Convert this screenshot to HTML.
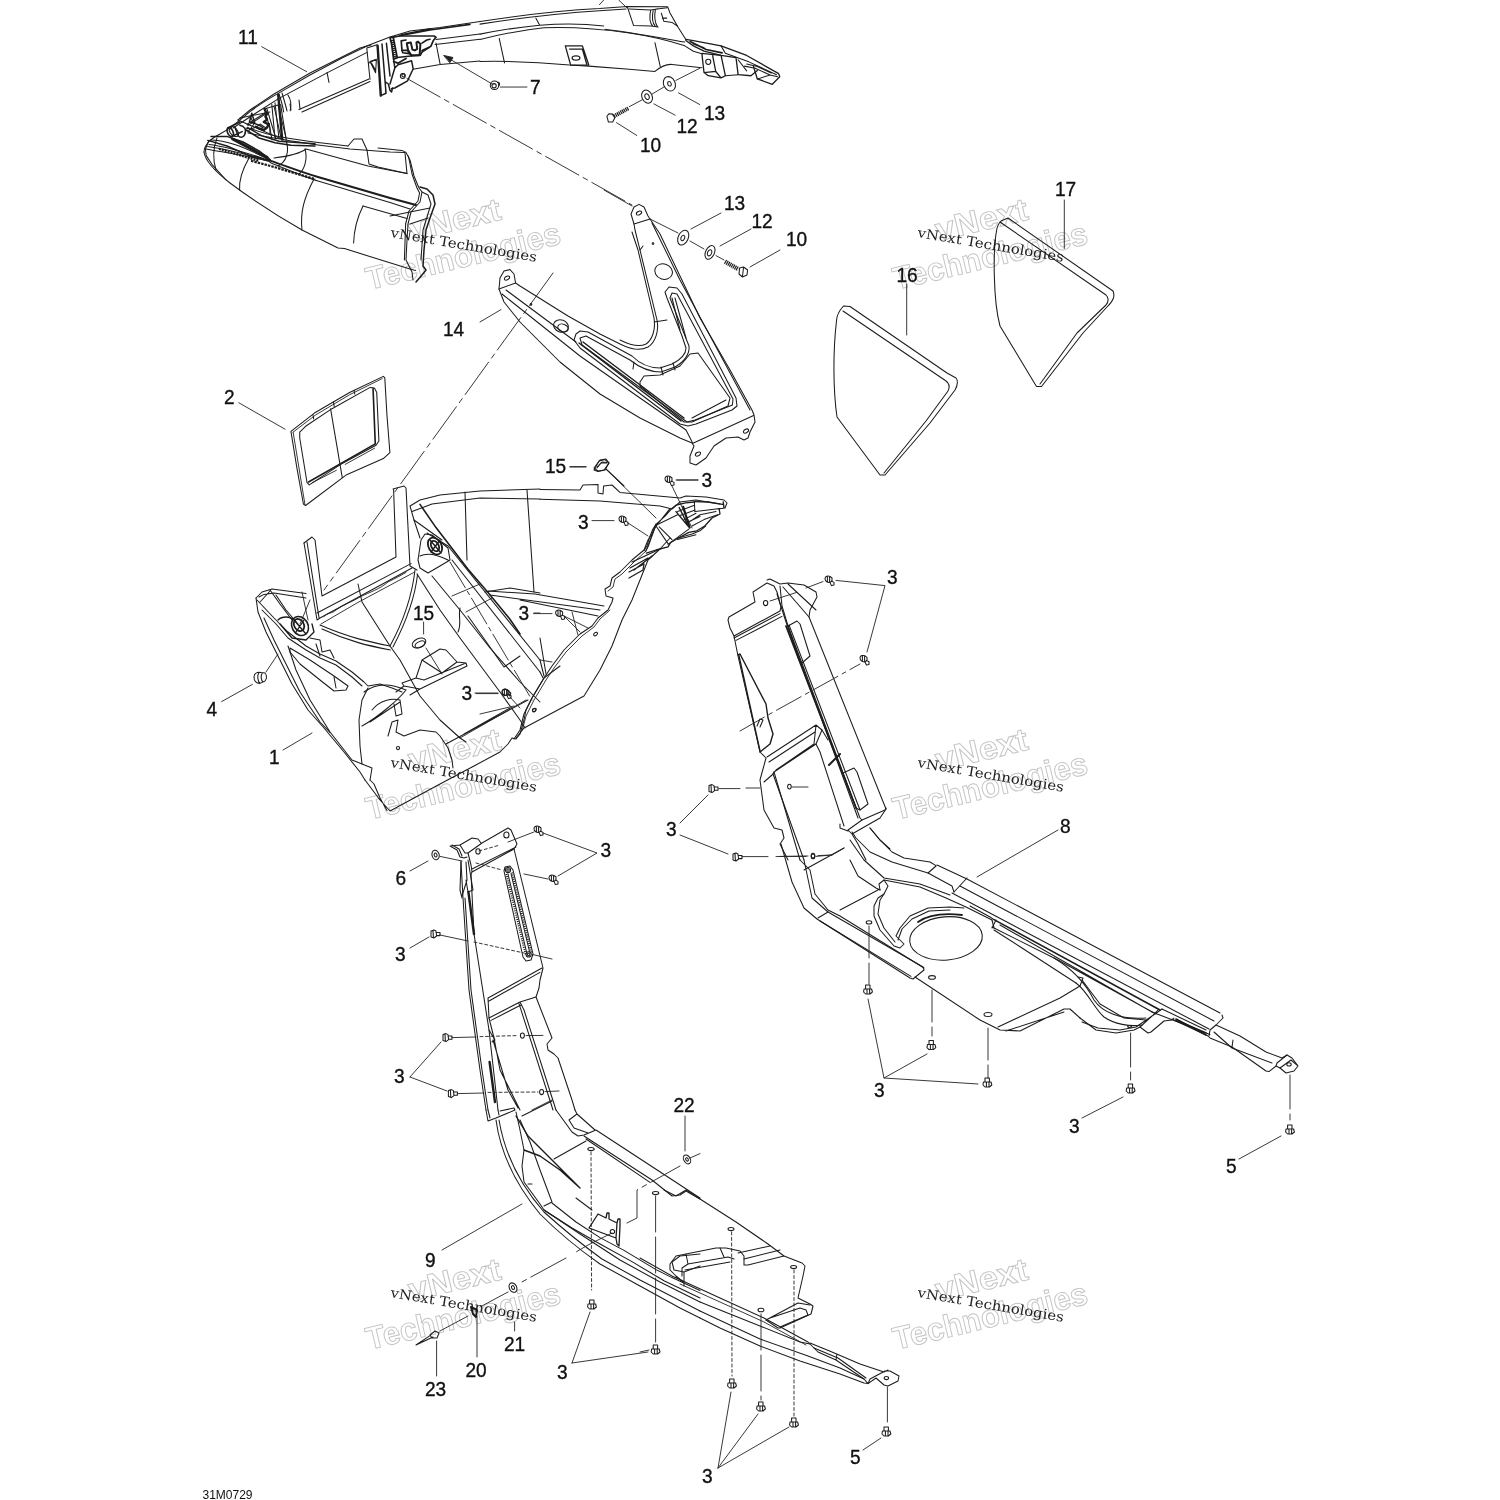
<!DOCTYPE html>
<html><head><meta charset="utf-8"><title>31M0729</title>
<style>
html,body{margin:0;padding:0;background:#fff;}
svg{display:block;filter:grayscale(1);}
.l{fill:none;stroke:#1c1c1c;stroke-width:1.05;vector-effect:non-scaling-stroke;stroke-linecap:round;stroke-linejoin:round;}
.t{fill:none;stroke:#222;stroke-width:0.9;vector-effect:non-scaling-stroke;stroke-linecap:round;stroke-linejoin:round;}
.n{font-family:"Liberation Sans",sans-serif;font-size:21px;fill:#111;stroke:#111;stroke-width:0.35;}
.wm1{font-family:"DejaVu Serif","Liberation Serif",serif;font-size:13.5px;fill:#222;}
.wm2{font-family:"Liberation Sans",sans-serif;font-weight:bold;font-size:32px;fill:#fff;stroke:#c4c4c4;stroke-width:0.95;}
.l *{vector-effect:non-scaling-stroke;}
</style></head><body>
<svg width="1500" height="1500" viewBox="0 0 1500 1500">
<rect width="1500" height="1500" fill="#fff"/>
<g transform="translate(465.7,266.7) rotate(-13.5)"><text class="wm2" text-anchor="middle" x="0" y="0" textLength="199" lengthAdjust="spacingAndGlyphs">Technologies</text><text class="wm2" text-anchor="middle" x="0" y="-37.5" textLength="94" lengthAdjust="spacingAndGlyphs">vNext</text></g>
<g transform="translate(992.7,266.7) rotate(-13.5)"><text class="wm2" text-anchor="middle" x="0" y="0" textLength="199" lengthAdjust="spacingAndGlyphs">Technologies</text><text class="wm2" text-anchor="middle" x="0" y="-37.5" textLength="94" lengthAdjust="spacingAndGlyphs">vNext</text></g>
<g transform="translate(465.7,796.7) rotate(-13.5)"><text class="wm2" text-anchor="middle" x="0" y="0" textLength="199" lengthAdjust="spacingAndGlyphs">Technologies</text><text class="wm2" text-anchor="middle" x="0" y="-37.5" textLength="94" lengthAdjust="spacingAndGlyphs">vNext</text></g>
<g transform="translate(992.7,796.7) rotate(-13.5)"><text class="wm2" text-anchor="middle" x="0" y="0" textLength="199" lengthAdjust="spacingAndGlyphs">Technologies</text><text class="wm2" text-anchor="middle" x="0" y="-37.5" textLength="94" lengthAdjust="spacingAndGlyphs">vNext</text></g>
<g transform="translate(465.7,1326.7) rotate(-13.5)"><text class="wm2" text-anchor="middle" x="0" y="0" textLength="199" lengthAdjust="spacingAndGlyphs">Technologies</text><text class="wm2" text-anchor="middle" x="0" y="-37.5" textLength="94" lengthAdjust="spacingAndGlyphs">vNext</text></g>
<g transform="translate(992.7,1326.7) rotate(-13.5)"><text class="wm2" text-anchor="middle" x="0" y="0" textLength="199" lengthAdjust="spacingAndGlyphs">Technologies</text><text class="wm2" text-anchor="middle" x="0" y="-37.5" textLength="94" lengthAdjust="spacingAndGlyphs">vNext</text></g>
<text class="wm1" transform="translate(390,237) rotate(9.6)" textLength="148" lengthAdjust="spacingAndGlyphs">vNext Technologies</text>
<text class="wm1" transform="translate(917,237) rotate(9.6)" textLength="148" lengthAdjust="spacingAndGlyphs">vNext Technologies</text>
<text class="wm1" transform="translate(390,767) rotate(9.6)" textLength="148" lengthAdjust="spacingAndGlyphs">vNext Technologies</text>
<text class="wm1" transform="translate(917,767) rotate(9.6)" textLength="148" lengthAdjust="spacingAndGlyphs">vNext Technologies</text>
<text class="wm1" transform="translate(390,1297) rotate(9.6)" textLength="148" lengthAdjust="spacingAndGlyphs">vNext Technologies</text>
<text class="wm1" transform="translate(917,1297) rotate(9.6)" textLength="148" lengthAdjust="spacingAndGlyphs">vNext Technologies</text>
<g transform="translate(240,480) scale(0.2)" class="l">
<!-- front-left outer -->
<path d="M80,590 L90,660 L130,760 L190,880 L260,1020 L340,1150 L420,1240 L520,1360 L600,1460 L625,1500"/>
<path d="M80,590 L110,560 L160,545 L330,568 M95,585 L120,572 L170,565 L330,590 M100,610 L150,555"/>
<path d="M120,690 L170,800 L230,920 L300,1060 L400,1210 L450,1262"/>
<path d="M240,830 L280,950 L350,1100 L450,1260 L560,1400 L610,1420 L660,1440 L650,1500"/>
<path d="M640,1040 L610,1100 L595,1200 L600,1330 L610,1420"/>
<path d="M85,600 L170,690 L240,760 L330,830 L400,870 L480,905 L560,960 L620,1010 L640,1030 L700,1020 L760,1040 L810,1060"/>
<path d="M110,650 L180,720 L240,790 L330,850 L400,890 L480,925 L560,985 L610,1030"/>
<path d="M150,550 L200,620 L260,700 M180,575 L230,650 L290,720"/>
<path d="M250,840 L350,900 L470,980 L540,1030 L530,1050 L470,1055 L400,1000 L300,920 L250,860 Z M470,985 L480,1040"/>
<!-- fastener left -->
<ellipse cx="300" cy="730" rx="40" ry="50" transform="rotate(-30 300 730)" style="stroke-width:1.6"/>
<ellipse cx="295" cy="725" rx="24" ry="32" transform="rotate(-30 295 725)" style="stroke-width:1.8"/>
<path d="M270,700 L330,770 M280,760 L320,700 M190,700 C210,680 250,680 270,700 M200,720 L260,790 L330,800 L370,760 L360,720" style="stroke-width:1.3"/>
<path d="M350,790 L400,800 L410,860 L450,850 L470,890 M380,820 L400,880"/>
<!-- U bracket -->
<path d="M320,315 L360,285 L375,300 L410,580 L780,385 L768,48 L765,45 L820,30 L830,40 L850,430 L885,450"/>
<path d="M320,315 L385,700 L400,690 L860,440 M335,310 L395,688 M385,665 L855,418"/>
<path d="M405,720 L590,612 L870,462 M420,682 C440,660 460,670 480,650 C520,620 560,610 600,585 C650,560 700,545 740,510 C780,490 800,480 830,462" class="t"/>
<path d="M590,520 L610,610 L750,830 L800,900 L900,1080 L1000,1200 L1100,1290 L1130,1310"/>
<path d="M400,725 C550,790 650,810 750,830 C810,720 860,580 875,450 M410,745 C550,810 650,830 752,850 M765,835 C825,720 875,590 888,470"/>
<path d="M310,560 L340,700 M350,600 L300,720" class="t"/>
<!-- long floor lines -->
<path d="M885,470 L1000,650 L1100,790 L1300,1060 L1400,1200 L1425,1240"/>
<path d="M960,480 L1100,650 L1250,840 L1400,1010 L1500,1110"/>
<path d="M1140,680 L1320,935 L1400,880"/>
<path d="M1100,640 C1090,680 1110,720 1090,760"/>
<!-- right beam -->
<path d="M870,200 L900,290 M935,265 L1040,330 L1500,900 M1060,400 L1500,960"/>
<path d="M850,130 L900,100 L1000,75 L1200,55 L1500,45 M860,158 L960,120 L1200,90 L1500,95 M850,130 L870,200 L1010,300"/>
<path d="M900,122 L980,238 L1140,446 L1236,558 L1348,694 L1400,770" style="stroke-width:1.6"/>
<path d="M1125,60 L1135,400 M1435,50 L1470,560"/>
<path d="M1225,560 L1350,540 L1500,565" />
<path d="M1060,580 L1200,520 M1130,660 L1260,590" class="t"/>
<!-- cup & fastener right -->
<path d="M905,300 L925,270 L960,275 L1040,340 L1050,400 L1000,430 L940,465 L900,440 L890,400 Z M900,380 C940,360 1000,380 1040,400"/>
<ellipse cx="975" cy="330" rx="32" ry="45" transform="rotate(-30 975 330)" style="stroke-width:1.8"/>
<ellipse cx="975" cy="330" rx="18" ry="28" transform="rotate(-30 975 330)" style="stroke-width:1.8"/>
<path d="M950,300 L1005,365 M955,360 L1000,300" style="stroke-width:1.3"/>
<!-- 15 clip & bracket -->
<ellipse cx="895" cy="815" rx="36" ry="22" transform="rotate(-25 895 815)"/><ellipse cx="900" cy="822" rx="26" ry="14" transform="rotate(-25 900 822)"/>
<path d="M930,840 L1010,970 M918,710 L918,770" class="t"/>
<path d="M880,990 L910,900 L1000,845 L1030,850 L1085,910 L1130,915 L1135,930 L900,1045 L820,1030 L810,1015 L880,990 L920,1000 L1130,915 M910,900 L1010,965 L1085,910 M820,1030 L780,1060 M900,1045 L850,1075"/>
<!-- screws -->
<g transform="translate(1330,1065)"><path d="M-18,-12 L-5,-20 L10,-10 L8,8 L-8,14 L-20,4 Z M10,-10 L24,0 L20,14 L8,8"/></g>
<path d="M1180,1068 L1290,1068 M1470,665 L1500,665" class="t"/>
<g transform="translate(100,985)"><path d="M-30,0 C-30,-20 -10,-28 5,-22 L25,-20 C35,-10 35,10 25,20 L0,32 C-20,32 -30,20 -30,0 Z M-5,-22 C-15,-5 -12,20 0,32 M12,-21 C2,-5 5,15 15,25"/></g>
<path d="M-92,1108 L62,1022 M130,960 L190,870 M215,1350 L360,1265" class="t"/>
<!-- lower cutout -->
<path d="M740,1280 L760,1210 L790,1200 L780,1260 L820,1280 L900,1250 L980,1260 L1000,1280 L1040,1340 L1060,1400 L1065,1440"/>
<circle cx="790" cy="1340" r="8"/><circle cx="1470" cy="1150" r="8"/>
<path d="M625,1500 L640,1520 L700,1600 L750,1655 L1000,1520 L1170,1430 L1300,1360 L1340,1320 L1360,1290 L1380,1295 L1400,1270 M1400,1270 L1420,1200 L1430,1150 L1460,1090 L1520,990 L1600,930 M650,1500 L670,1520 L700,1590 L735,1652 M1030,1320 L1440,1100 M1120,1270 L1350,1140"/>
<path d="M620,1060 C700,1000 780,1030 830,1050 M610,1230 C700,1180 800,1090 830,1050 M660,1150 C700,1100 760,1090 800,1100 L810,1170 L780,1180 L770,1120 M650,1210 L800,1110"/>
</g>
<g transform="translate(460,440) scale(0.2)" class="l">
<path d="M400,248 L600,250 L615,225 L690,222 L690,265 L715,270 L718,230 L760,225 L800,262 L1100,290 L1130,280 L1230,285 L1320,300 L1335,315 L1325,340 L1290,345"/>
<path d="M400,296 L700,305 L1000,330 L1060,345 L1100,310 L1180,300 L1300,320"/>


<path d="M980,420 L960,470 L940,500 L920,550 L860,600 L800,660 L760,690 L750,730 L725,745 L730,780 L765,790 L760,810 L740,850 L690,890 L660,930 L600,970 L520,1050 L460,1130 L420,1190 L360,1290 L320,1370 L300,1450 L270,1495"/>
<path d="M970,450 L950,500 L930,555 L870,610 L810,670 L775,695 L765,735 L740,755 M750,850 L700,895 L670,935 L610,980 L530,1060 L470,1140 L430,1200 L370,1300 L330,1380 L312,1450" class="t"/>
<path d="M1050,490 L1000,545 L940,600 L900,700 L860,800 L810,900 L760,1030 L700,1150 L620,1280 L320,1440 L280,1490"/>
<path d="M860,610 L1000,545 M845,660 L920,620 M845,690 L915,650 L920,620 M850,640 L940,590 M870,650 L960,580" style="stroke-width:1.3"/>
<path d="M140,755 L375,770 L720,830 M150,775 L700,850 M300,800 L690,880" />
<path d="M560,860 L590,975 M520,880 L640,940" class="t"/>
<ellipse cx="678" cy="970" rx="11" ry="7" transform="rotate(-40 678 970)"/><ellipse cx="372" cy="1350" rx="11" ry="7" transform="rotate(-40 372 1350)"/>
<path d="M400,1100 L420,1180 M400,990 L430,1170 M400,1160 L415,1190" />
<path d="M400,1100 L460,1110" class="t"/>
<path d="M0,1490 L330,1300 M100,1370 L270,1330" class="t"/>
<!-- screws -->
<g id="scr" transform="translate(1045,200)"><path d="M-20,-8 C-20,-20 -5,-22 5,-18 L15,-10 L15,5 L5,12 C-10,14 -20,5 -20,-8 Z M-8,-18 L-8,10 M3,-18 L3,12 M12,5 L25,12 L25,25 L12,28 L5,12"/></g>
<use href="#scr" transform="translate(-230,200)"/><use href="#scr" transform="translate(-547,670)"/><use href="#scr" transform="translate(-815,1065)"/>
<path d="M1085,200 L1190,200 M660,403 L770,403 M368,868 L460,868 M75,1265 L190,1265 M550,133 L630,133" class="t"/>
<path d="M1060,230 L1160,440 M840,415 L940,480 M525,885 L600,960 M250,1285 L300,1340 M735,150 L980,390" class="t"/>
<path d="M670,150 L695,105 L725,98 L745,115 L725,150 L690,158 Z M685,140 L705,115 L735,115"/>
</g>
<g transform="translate(620,470) scale(0.08)" class="l">
<path d="M650,480 L700,440 L820,410 L930,400 M1240,490 L1250,550 L1150,600 L1060,700 L960,760 L860,780 L730,850 L630,910 L600,960 L450,1000 L330,1040" style="stroke-width:1.3"/>
<path d="M650,480 L560,580 L450,680 L410,740 L370,840 L340,940 L300,1010 M620,490 L540,590 L460,690 L430,740 L390,850 L355,950 L320,1020"/>
<path d="M450,690 L720,560 M600,930 L860,740 M450,700 L600,920 M490,710 L650,870"/>
<path d="M790,460 L870,720" style="stroke-width:2.2"/>
<path d="M700,520 L850,700 M740,470 L850,690" style="stroke-width:1.4"/>
<path d="M720,520 L930,440 M750,570 L940,500 M800,620 L950,540 M850,650 L1000,580 M930,400 L935,520 M940,520 L1100,500 L1250,480 M880,640 L1000,560 L1200,520 M900,700 L1050,620 L1220,560 M730,850 L900,800 L1000,760 L1070,700 M720,870 L950,810"/>
<path d="M930,395 L1100,400 L1280,430 M1290,400 L1300,470" style="stroke-width:1.4"/>
</g><g transform="translate(200,350) scale(0.146667)" class="l">
<path d="M620,555 L780,430 L1020,290 L1250,180 L1260,190 L1275,450 L1295,700 L1250,740 L1000,850 L720,1060 L705,1050 L660,800 Z"/>
<path d="M635,560 L790,442 L1020,305 L1242,195 M635,560 L715,1050" class="t"/>
<path d="M680,560 L720,520 L900,400 L1160,255 L1190,260 L1205,290 L1220,620 L1200,650 L960,780 L745,920 L730,905 L680,600 Z"/>
<path d="M1180,265 L1195,640 L740,900" style="stroke-width:1.6"/>
<path d="M890,400 L970,870 M770,440 L775,470 M910,355 L915,385 M1050,275 L1055,300"/>
<path d="M765,905 L930,820 M990,780 L1190,670" class="t"/>
<path d="M265,360 L580,540" class="t"/>
</g>
<g transform="translate(700,560) scale(0.2)" class="l">
<path d="M335,100 L350,95 L400,120 L440,115 L520,125 L580,160 L585,185 L550,250 L545,285 L930,1245"/>
<path d="M265,160 L335,115 L370,130 L385,160 L405,235 L400,255 L170,380 L150,340 L140,300 L145,285 L275,210 Z M170,390 L400,268 M180,402 L410,282"/>
<path d="M170,380 L190,480 L300,960 L330,990 L300,1100 L320,1250 L370,1340 L410,1350 L420,1390 L400,1420 L440,1500"/>
<path d="M190,475 L200,470 L330,720 L340,790 L365,870 L350,920 L300,960 M195,480 L300,955" style="stroke-width:1.4"/>
<path d="M285,830 L300,795 L315,800 L300,835"/>
<path d="M335,985 L580,825 L610,850 L580,920 L370,1060 L360,1075 L320,1110 M580,825 L570,920 L380,1050 L365,1070 L520,1500 M345,1010 L575,860"/>
<path d="M580,920 L600,960 L720,1330 M610,850 L640,900 M370,1060 L500,1500"/>
<path d="M400,130 L410,230 L440,330 L800,1290 L810,1300 L925,1250 L930,1240"/>
<path d="M385,170 L430,310 L790,1290 M415,135 L545,285 M440,120 L580,250"/>
<path d="M430,330 L780,1240" style="stroke-width:1.8"/>
<path d="M445,325 L800,1250"/>
<path d="M440,330 L485,305 L500,320 L550,480 L510,515 L495,500 Z M715,1065 L770,1040 L785,1060 L840,1220 L800,1250 L780,1240"/>
<path d="M645,1025 L700,970" style="stroke-width:2"/>
<path d="M810,1300 L740,1350 L760,1370 L900,1290 L930,1245 M850,1340 L900,1400 L950,1445 M760,1370 L790,1420 L830,1500 M740,1355 L700,1340 L700,1320"/>
<ellipse cx="328" cy="215" rx="11" ry="13"/><ellipse cx="447" cy="1133" rx="9" ry="12"/><ellipse cx="565" cy="1478" rx="9" ry="12"/>
<use href="#scr" transform="translate(-400,-100)"/><use href="#scr" transform="translate(-225,297)"/>
<g id="scl" transform="translate(65,1143)"><path d="M-20,-15 L-5,-20 L5,-15 L8,10 L-5,20 L-20,15 Z M-10,-18 L-8,18 M5,-8 L25,-8 L25,8 L8,8"/></g>
<use href="#scl" transform="translate(120,342)"/>
<path d="M680,102 L925,128 L835,460" class="t"/>
<path d="M350,205 L490,160 M530,140 L615,108 M200,855 L340,775 L800,520" class="t" style="stroke-dasharray:28 5 4 5"/>
<path d="M95,1143 L200,1143 M230,1140 L300,1140 M460,1135 L540,1135 M210,1483 L340,1483 M380,1483 L540,1480 M590,1478 L660,1475 L720,1440" class="t"/>
</g>
<g transform="translate(780,820) scale(0.2)" class="l">
<path d="M5,120 L60,310 L120,440 L185,495 L650,790 L665,795 L720,750 L715,735 L240,460 L190,490"/>
<path d="M120,200 L160,390 L240,460 M100,200 L150,250 L175,370 L240,450 L300,480 L720,740 M200,505 L655,782"/>
<path d="M350,200 L390,280 L480,340 L500,350 M120,250 L320,140 M300,450 L490,350" />
<ellipse cx="165" cy="182" rx="9" ry="12"/>
<path d="M0,182 L130,182 M180,182 L260,175" class="t"/>
<path d="M500,350 L495,320 L520,300 L540,330 L520,370 L490,390 L470,430 L470,480 L500,550 L570,630 L600,640 L620,620 L600,600 L580,580 L600,540 L650,480 L740,440 L850,435 L920,440"/>
<path d="M520,370 L500,400 L490,470 L520,540 L575,610 M590,600 L610,545 L660,495 L745,455 L850,450"/>
<ellipse cx="830" cy="592" rx="182" ry="108" transform="rotate(-5 830 592)"/>
<path d="M690,510 C740,475 820,465 910,475" style="stroke-width:1.8"/>
<!-- tubes -->
<path d="M450,40 L500,100 L560,160 L620,190 L750,210 L780,228"/>
<path d="M360,60 L380,90 L450,160 L560,210 L740,265 L860,330 L870,360"/>
<path d="M350,100 L420,200 L520,290 L700,320 L850,375"/>
<path d="M520,300 L700,335 L830,390 L930,435 L1060,500"/>
<path d="M780,230 L740,265 M935,290 L870,360 M1060,500 L1070,540"/>

<!-- plate -->
<path d="M675,785 L1000,1000 L1080,1040 L1100,1050 L1200,1055 L1420,945 L1450,945 L1500,990 M1090,1035 L1400,890 L1500,830 M1130,1055 L1420,960"/>
<ellipse cx="445" cy="512" rx="14" ry="8"/><ellipse cx="760" cy="787" rx="17" ry="9"/><ellipse cx="1040" cy="972" rx="20" ry="10"/>
<path d="M445,530 L445,820 M760,850 L760,1080 M1040,1040 L1040,1290" class="t" style="stroke-dasharray:32 5"/>
<g id="scv" transform="translate(440,850)"><path d="M-12,-25 L10,-25 L10,-5 L-12,-5 Z M-20,-5 L18,-5 L22,10 L10,20 L-12,20 L-22,10 Z M-5,-5 L-5,20 M8,-5 L8,20"/></g>
<use href="#scv" transform="translate(317,278)"/><use href="#scv" transform="translate(597,465)"/>
<path d="M440,895 L520,1290 L735,1170 M520,1290 L990,1320 M985,285 L1390,50" class="t"/>
</g>
<g transform="translate(1040,900) scale(0.2)" class="l">
<path d="M910,575 L915,590 L880,625 L850,650 L845,680"/>
<path d="M610,545 L830,650 M560,560 L850,672"/>


<path d="M200,430 L215,390 L190,385 M200,590 L280,650 L380,665 L470,650 L500,635 L540,665 L555,660 L620,605 L660,600 L670,590"/>
<path d="M210,610 L290,640 L400,650 L480,635 L560,580 L590,550 M210,400 L300,520 L420,590 L530,600 M500,635 L560,580 L610,545"/>
<path d="M660,595 L840,680 L850,690 L960,735 L1130,855 L1145,858 L1180,830 L1200,840 L1230,865 L1270,855 L1290,830 L1260,790 L1235,775 L1185,815 L1180,830"/>
<path d="M880,625 L1000,680 L1130,760 L1210,790 L1235,775 M870,660 L960,740 L1160,815 M960,735 L965,700 M1200,840 L1255,800 L1285,825"/>
<path d="M680,600 L830,665" style="stroke-width:1.5"/>
<ellipse cx="1245" cy="822" rx="11" ry="8"/><ellipse cx="448" cy="632" rx="10" ry="5"/>
<path d="M453,665 L453,900 M1250,875 L1250,1100" class="t" style="stroke-dasharray:34 5"/>
<use href="#scv" transform="translate(13,95)"/><use href="#scv" transform="translate(810,300)"/>
<path d="M210,1090 L415,985 M995,1295 L1205,1180" class="t"/>
</g>
<g transform="translate(930,840) scale(0.2)" class="l">
<path d="M35,125 L185,195 L1450,865 M150,230 L1420,905 M110,265 L1395,945"/>
<path d="M320,398 L1150,850" style="stroke-width:1.6"/>
<path d="M350,425 L1110,860 M310,435 L640,600 L1130,870 M330,400 L310,440 M200,330 L300,385 L320,398"/>
<path d="M320,450 L460,540 L730,715"/>
<path d="M620,590 C720,650 780,720 820,800 C860,860 950,900 1080,890 M730,715 C790,760 820,840 870,885 C920,920 1000,935 1060,925"/>
<path d="M1230,895 L1380,975" style="stroke-width:1.6"/>
</g><g transform="translate(380,810) scale(0.2)" class="l">
<path d="M455,320 L460,310 L455,275 L440,215 L510,165 L640,90 L655,100 L685,170 L670,195 L460,310 M460,295 L680,185"/>
<path d="M505,165 L490,145 L460,140 L400,175 L425,215 L440,215 M350,180 L400,175 M350,180 L385,200 L400,235 L420,240 L435,235 M360,175 L395,195 L410,230"/>
<ellipse cx="632" cy="125" rx="13" ry="15"/><ellipse cx="490" cy="207" rx="11" ry="13"/>
<path d="M670,195 L720,400 L815,790 L800,850 L795,890 L780,935 L860,1140 L835,1170 L840,1200 L870,1220 L890,1240 L960,1450 L975,1500"/>
<path d="M405,260 L415,440 L445,900 L500,1300 L530,1500 M455,320 L470,620 L545,1100 L590,1500 M425,440 L455,900 L510,1300 L540,1500"/>
<path d="M405,255 L400,400 L410,440 M430,260 L435,350 L410,430 M440,250 L465,400 L440,410 L430,350"/>
<path d="M442,410 L470,620 M548,1260 L575,1460" style="stroke-width:2.4"/>
<path d="M545,1100 L575,1150 L560,1160"/>
<path d="M620,305 L625,285 L650,280 L665,300 L765,720 L755,750 L730,755 L715,735 Z M640,320 L735,720 M655,318 L748,710"/>
<path d="M632,320 L728,722 M660,312 L756,712" style="stroke-width:2;stroke-dasharray:1 1.2;stroke-linecap:butt"/>
<circle cx="640" cy="300" r="13"/><circle cx="743" cy="722" r="13"/><circle cx="640" cy="300" r="6"/><circle cx="743" cy="722" r="6"/>
<path d="M540,940 L810,790 M545,955 L800,812 M540,940 L545,1040 L700,960 L780,935 M555,1052 L705,975 M700,960 L720,1000 L880,1500 M695,968 L865,1500"/>
<path d="M545,1040 L570,1140 L600,1300 L680,1460 L700,1500 M565,1150 L640,1400 L690,1490"/>
<ellipse cx="712" cy="1128" rx="10" ry="13"/><ellipse cx="808" cy="1410" rx="10" ry="13"/>
<use href="#scr" transform="translate(-255,-100)"/><use href="#scr" transform="translate(-180,145)"/>
<use href="#scl" transform="translate(210,-523)"/><use href="#scl" transform="translate(270,-5)"/><use href="#scl" transform="translate(297,275)"/>
<ellipse cx="278" cy="225" rx="18" ry="24" transform="rotate(-15 278 225)"/><ellipse cx="278" cy="225" rx="7" ry="10" transform="rotate(-15 278 225)"/>
<path d="M300,232 L410,255 M150,305 L240,255 M815,115 L1085,215 L890,330 M300,625 L440,655 M760,722 L860,745 M150,690 L245,635 M360,1138 L480,1135 M730,1128 L815,1127 M390,1418 L520,1415 M825,1408 L895,1405 M150,1335 L305,1160 M150,1335 L335,1405 M760,1500 L860,1450 M640,160 L770,110 M720,320 L840,345" class="t"/>
<path d="M495,205 L600,175 M480,265 L610,300 M470,660 L720,715 M500,1133 L690,1128 M540,1412 L790,1410" class="t" style="stroke-dasharray:3 2.5"/>
</g>
<g transform="translate(400,1090) scale(0.2)" class="l">
<path d="M430,100 L440,155 L480,140 L575,100 L570,90 L500,105 M440,100 L450,140 M490,100 L495,125"/>
<path d="M480,150 C500,300 560,450 700,620 C800,720 900,800 1000,870 L1200,980 L1400,1090 L1500,1140"/>
<path d="M495,150 C520,300 580,450 720,610 C820,700 920,780 1010,845 L1200,950 L1500,1105"/>
<path d="M580,110 L600,200 L620,300 L610,380 L620,460 L700,570 L720,600 L900,720 L1100,850 L1300,960 L1500,1060"/>
<path d="M760,565 L880,660 L1000,738 L1120,802 L1280,898 L1360,938 L1500,1003 M720,600 L860,690 L1000,770 L1160,858 L1320,954 L1500,1040"/>
<path d="M600,150 L650,260 L700,400 L760,560 L720,580 M640,470 L660,470"/>
<path d="M620,300 L700,330 L800,400 L900,490 M580,130 L640,230 L760,350 L860,450 L900,490" style="stroke-width:1.4"/>
<path d="M780,100 L860,210 L890,230 L920,225 L980,200 L1500,540 M875,100 L885,120 L845,150 L870,190 L940,215 M885,120 L975,200"/>
<path d="M920,230 L1260,450 L1360,530 L1400,525 L1430,505 L1500,545 M930,245 L1250,462"/>
<path d="M610,130 L760,55 M770,345 L930,255 M880,540 L960,600" />
<ellipse cx="955" cy="295" rx="16" ry="8"/><ellipse cx="1278" cy="515" rx="16" ry="8"/>
<path d="M955,310 L958,1000" class="t" style="stroke-dasharray:3 2.5"/>
<path d="M1278,530 L1278,1260" class="t" style="stroke-dasharray:36 5"/>
<path d="M945,690 L990,620 L1030,640 L1035,615 L1045,615 L1045,645 L1085,665 L1090,645 L1100,645 L1100,680 L1095,780 L1085,770 L1080,740 Z M1085,665 L1080,740" style="stroke-width:1.3"/>
<circle cx="1062" cy="708" r="11"/>
<path d="M1060,715 L940,775 L880,810 M830,840 L600,965 M540,1010 L400,1085 M340,1130 L200,1205 M1135,665 L1185,640 L1185,500 L1400,380 M1450,340 L1500,318" class="t" style="stroke-dasharray:40 5 5 5"/>
<ellipse cx="565" cy="988" rx="18" ry="25" transform="rotate(-30 565 988)"/><ellipse cx="565" cy="988" rx="7" ry="10" transform="rotate(-30 565 988)"/>
<ellipse cx="1435" cy="347" rx="16" ry="24" transform="rotate(-30 1435 347)"/><ellipse cx="1435" cy="347" rx="6" ry="9" transform="rotate(-30 1435 347)"/>
<path d="M355,1085 L385,1100 L380,1135 L365,1120 Z" style="stroke-width:2"/>
<path d="M150,1225 L175,1205 L195,1215 L185,1240 L160,1240 Z M165,1235 L80,1275 L150,1228" />
<path d="M1425,130 L1425,305 M860,1365 L950,1110 M860,1365 L1240,1310 M210,800 L610,570 M573,1160 L573,1205 M385,1130 L385,1335 M183,1255 L183,1430" class="t"/>
<use href="#scv" transform="translate(520,225)"/><use href="#scv" transform="translate(838,450)"/>
<path d="M1500,820 L1400,830 L1360,860 L1370,900 L1420,910 L1420,980 M1420,910 L1500,880 M1380,935 L1420,960"/>
</g>
<g transform="translate(640,1190) scale(0.2)" class="l">
<path d="M300,640 L400,690 L600,780 L800,855 L1000,920 L1120,965 L1140,968"/>
<path d="M300,605 L600,745 L840,830 L1000,890 L1120,945 M300,560 L600,680 L800,760 L850,770"/>
<path d="M0,340 L160,430 L400,540 L620,640 L840,760 L870,790 L990,840 L1130,940"/>
<path d="M200,470 L400,560 L620,660 L830,775" class="t"/>
<path d="M850,765 L960,810 L1100,870 L1220,910 L1240,900 M870,790 L890,810 L980,850 L1120,945 L1140,968 L1180,940 L1220,975 L1240,980 L1290,955 L1295,930 L1250,905 L1225,905 L1150,945 L1140,968 M980,850 L985,820"/>
<ellipse cx="1232" cy="940" rx="11" ry="8"/>
<path d="M300,45 L480,160 L640,270 L720,330 L810,365 L825,380 L815,430 L790,540 L850,570 L865,580 L855,620 L700,690 L690,690 L630,650 M120,0 L180,30 L230,0 L300,45"/>
<path d="M215,460 L180,430 L150,400 L150,370 L180,330 L380,290 L430,290 L500,305 L520,330 L520,375 L540,375 L720,330"/>
<path d="M210,430 L210,390 L240,370 L440,335 L470,345 M225,400 L450,360 M490,315 L650,280 M520,345 L700,300 M230,320 L240,370 M400,290 L420,335"/>
<path d="M630,650 L790,565 L850,575 M650,640 L800,590 L830,600 L840,625 L700,685"/>
<ellipse cx="455" cy="195" rx="15" ry="8"/><ellipse cx="768" cy="385" rx="15" ry="8"/><ellipse cx="605" cy="600" rx="15" ry="9"/>
<path d="M458,210 L460,930 M770,400 L770,1130" class="t" style="stroke-dasharray:3 2.5"/>
<path d="M605,620 L605,1050 M1237,985 L1237,1160" class="t" style="stroke-dasharray:36 5"/>
<use href="#scv" transform="translate(20,120)"/><use href="#scv" transform="translate(165,235)"/><use href="#scv" transform="translate(330,315)"/><use href="#scv" transform="translate(792,360)"/>
<path d="M390,1390 L455,1010 M390,1390 L590,1120 M390,1390 L745,1185 M1115,1300 L1205,1240 M0,810 L45,800" class="t"/>
</g>
<g transform="translate(190,0) scale(0.2)" class="l">
<!-- nose outer -->
<path d="M70,760 C75,800 110,845 200,915 C300,990 420,1070 560,1150 L740,1240 L772,1243 L1100,1345 L1128,1352"/>
<path d="M70,760 C72,715 110,690 150,670 C200,645 240,610 300,558 C350,520 400,490 450,462 L600,375 L760,290 L875,235"/>
<path d="M215,640 L330,565 L445,492 L690,362 L885,262"/>
<path d="M240,600 L300,550 L420,470 L600,365 L850,240 L905,225"/>
<!-- spear -->
<path d="M100,700 C180,700 260,730 400,800 M80,745 C160,760 260,775 400,805 M95,722 C170,730 260,755 395,802 M88,733 C170,745 260,765 395,804" />
<path d="M135,690 C115,740 115,800 130,850"/>
<path d="M295,790 C255,860 245,910 248,950"/>
<path d="M620,895 C570,990 550,1060 560,1150"/>
<path d="M865,1030 C835,1090 820,1150 818,1215"/>
<path d="M865,1030 L1085,1092"/>
<!-- belt lines -->
<path d="M400,803 C480,830 560,862 640,885 L1000,990 L1130,1025" style="stroke-width:1.9"/>
<path d="M400,812 C480,845 560,880 640,905 L1000,1012 L1100,1045"/>
<path d="M290,665 C400,690 500,705 640,725 L800,745 L1000,760 L1075,762"/>
<path d="M310,645 C400,680 500,695 640,712 L790,730"/>
<path d="M420,790 C500,780 560,760 580,745 L890,830 L1085,868"/>
<path d="M480,700 C500,760 480,810 440,830"/>
<path d="M575,745 C590,800 570,850 545,870"/>
<path d="M790,730 L820,695 L860,695 L885,750 L895,820 L940,835 L1085,868 L1075,765"/>
<path d="M940,740 L1060,752 L1080,762 L1100,800 L1120,880 L1145,940 L1160,960 L1150,1010 L1105,1060 L1090,1120 L1085,1200 L1080,1300 L1110,1360 L1115,1400"/>
<path d="M1092,780 L1110,870 L1135,940 L1148,965 L1140,1005 L1095,1055 L1078,1120 L1072,1300"/>
<path d="M1150,935 L1185,945 L1215,975 L1225,1020 L1200,1090 L1180,1150 L1170,1250 L1165,1330 L1180,1350 L1160,1375 L1130,1410" style="stroke-width:1.5"/>
<path d="M1160,960 L1190,975 L1205,1020 L1185,1085 L1165,1150 L1155,1300"/>
<path d="M1000,1080 L1200,1040 M1100,1120 L1190,1090"/>
<!-- arm lower edge -->
<path d="M545,548 L895,395 M560,560 L900,408"/>
<path d="M445,470 C455,500 465,530 468,560 M460,465 C470,500 480,530 485,555" />
<path d="M500,520 L505,550 M545,500 L550,545 M685,362 L695,412"/>
<!-- inner frame near nose -->
<path d="M370,545 L440,525 L480,690 M375,560 L400,640 L410,700 M420,530 L455,690 M385,545 L430,695" />
<path d="M215,628 C230,640 250,660 240,680 C220,690 200,670 195,650 Z"/>
<path d="M300,580 L320,620 L290,660 M280,640 C300,650 330,640 350,620 L380,640"/>
<path d="M240,600 L470,700 M250,590 L400,560"/>
<!-- bracket -->
<path d="M870,235 L1000,185 L1100,155 L1250,138 L1450,108"/>






<path d="M1230,215 L1250,318 M1115,346 L1250,322 L1450,305"/>
<path d="M1230,197 L1450,170"/>
<path d="M1225,222 L1450,196"/>
</g>
<g transform="translate(480,0) scale(0.213333)" class="l">
<path d="M0,101 C200,70 400,48 560,40 L690,30 L880,32 L890,60 L930,130 L965,185"/>
<path d="M0,113 C200,82 400,60 560,50 L685,42"/>
<path d="M690,30 L720,120 L800,122 L835,127 M700,42 L800,47 L830,42 M800,47 C793,80 798,110 810,122 M812,47 C805,80 810,110 822,124 M822,45 C816,80 822,110 832,125" />
<path d="M830,42 L878,36 M850,62 L862,100 L900,105 L925,122 M855,85 L875,85"/>
<path d="M0,185 C100,160 200,140 300,130 C450,125 600,140 700,155 C800,170 900,195 960,215 L1000,240 L1040,252"/>
<path d="M0,160 C100,140 200,125 280,118 L262,85  M280,118 C400,108 500,112 580,122 M585,137 C700,150 850,178 960,197"/>
<path d="M0,288 C150,285 300,293 420,305 L510,310 L700,325 L820,335 C850,310 880,300 900,302 L1040,318"/>
<path d="M90,180 L115,295 M820,200 L845,312"/>
<path d="M400,215 L480,215 L510,305 L425,305 Z  M420,230 L480,230 L500,300" style="stroke-width:1.3"/>
<ellipse cx="450" cy="272" rx="18" ry="10" style="stroke-width:1.3"/>
<path d="M1040,250 L1050,340 L1070,355 L1130,365 L1150,355 L1130,260 Z M1050,340 L1105,335 L1130,365 M1105,335 L1090,258" style="stroke-width:1.3"/>
<circle cx="1070" cy="290" r="12"/>
<path d="M965,185 L1000,190 L1130,215 L1250,260 L1400,345 L1405,360 L1370,395 L1300,370 L1282,312" style="stroke-width:1.3"/>
<path d="M965,190 L1000,215 L1050,240 L1130,260 L1200,270 L1210,350 L1270,355 L1300,330" style="stroke-width:1.3"/>
<path d="M985,195 L1060,232 L1135,248 M1000,205 L1050,225"  style="stroke-width:1.7"/>
<path d="M1130,215 L1150,250 L1260,290 L1390,350 M1210,280 L1250,332 M1240,310 L1290,320 L1360,352 M1250,300 L1300,312 L1365,342 M1300,370 L1360,352 L1395,360"/>
<path d="M1150,355 L1210,350"/>
<!-- nut 7 -->
<circle cx="68" cy="400" r="20"/><circle cx="66" cy="402" r="10"/><path d="M82,386 C92,384 95,395 88,402"/>
<path d="M95,408 L220,408" class="t"/>
<!-- washers -->
<ellipse cx="888" cy="393" rx="27" ry="35" transform="rotate(-25 888 393)"/><ellipse cx="888" cy="393" rx="8" ry="11" transform="rotate(-25 888 393)"/>
<ellipse cx="783" cy="453" rx="24" ry="32" transform="rotate(-25 783 453)"/><ellipse cx="783" cy="453" rx="10" ry="14" transform="rotate(-25 783 453)"/>
<!-- bolt -->
<path d="M595,545 L605,533 L622,535 L632,552 L622,572 L602,572 Z M620,535 L632,552"/>
<path d="M628,545 L695,508" style="stroke-width:4;stroke-dasharray:1.2 0.7;stroke-linecap:butt"/>
<path d="M1030,320 L918,377 M862,408 L808,440 M760,468 L700,500" class="t"/>
<path d="M930,435 L1030,490 M815,487 L915,540 M640,575 L735,635" class="t"/>
<path d="M560,22 L580,0 M650,0 L690,38" class="t"/>
</g>
<g transform="translate(350,20) scale(0.08)" class="l">
<path d="M210,350 L340,310 L355,480 M210,355 L250,740 M230,540 L330,490 M250,520 L330,490 L320,660 Z M270,540 L315,620"/>
<path d="M345,320 L385,945" style="stroke-width:2.4"/>
<path d="M400,300 L450,910 M455,290 L500,700 M385,945 L450,915 L445,880 M450,780 L480,800 L500,880 L520,900 L530,850" style="stroke-width:1.5"/>
<path d="M500,220 L540,215 L590,470 L545,490 L520,300 Z" style="stroke-width:1.8"/>
<path d="M528,250 L562,480" style="stroke-width:3;stroke-dasharray:1.2 0.8;stroke-linecap:butt"/>
<path d="M540,215 L620,200 L1050,200 L1075,215 L1040,260 L1010,330 L900,400 L880,440 L770,450 L730,380 L650,380 L640,260 L700,250" style="stroke-width:1.7"/>
<path d="M710,290 L730,400 L770,440 L870,440 L880,300 L850,270 L830,280 L840,360 L810,380 L780,370 L760,280 Z" style="stroke-width:2"/>
<path d="M900,290 L960,250 L1000,240 M900,380 L990,340 M650,380 L660,410 L740,420" style="stroke-width:1.6"/>
<path d="M590,470 L760,450 M545,490 L560,600 L530,700 L500,800 M560,600 L600,560 L770,510 L790,610 L720,760 L560,850 L520,860" style="stroke-width:1.5"/>
<path d="M545,520 L600,540 L700,480" style="stroke-width:1.8"/>
<circle cx="660" cy="700" r="30"/><circle cx="668" cy="692" r="20"/>
<path d="M620,195 L1000,125 L1500,55 M640,185 L1000,112" style="stroke-width:1.6"/>
</g><g transform="translate(195,90) scale(0.08)" class="l">
<path d="M170,640 L130,740 L140,820 L220,940 L330,1060 L390,1125" />
<ellipse cx="440" cy="525" rx="34" ry="60" transform="rotate(-25 440 525)" style="stroke-width:1.6"/>
<path d="M410,475 L560,400 M450,585 L590,520 M500,470 L540,570 M560,440 C620,450 650,500 620,560 C600,600 560,600 540,570" style="stroke-width:1.5"/>
<path d="M200,580 L400,580 L600,650 L800,760 L940,870 L930,890 L700,830 L400,700 L160,630" style="stroke-width:1.5"/>
<path d="M470,612 L900,842" style="stroke-width:3"/>
<path d="M300,735 L800,885" style="stroke-width:2.6;stroke-dasharray:2 1;stroke-linecap:butt"/>
<path d="M700,885 L1000,965 L1500,1115" style="stroke-width:2.2;stroke-dasharray:2.5 1;stroke-linecap:butt"/>
<path d="M640,500 L800,600 L1000,660 L1200,690 L1500,700 M660,470 L830,570 L1050,640 L1500,672" style="stroke-width:1.5"/>
<path d="M960,180 L1000,600 M1000,160 L1050,610 M1070,180 L1140,620 M930,420 L940,560"/>
<path d="M1040,60 L1090,620" style="stroke-width:2.4"/>
<path d="M870,240 L900,300 L880,330 L900,370 L860,400 L920,430 L900,470 L860,500 L800,480 L760,460" style="stroke-width:2.4"/>
<path d="M680,400 L710,290 L750,420 Z M750,420 L800,440 L850,470" style="stroke-width:1.5"/>
<path d="M650,430 L870,290 M660,445 L875,305"/>
<path d="M1160,60 C1200,120 1205,200 1190,260"/>
</g>
<g transform="translate(480,190) scale(0.2)" class="l">
<path d="M95,495 L100,440 L120,405 L150,398 L170,420 L178,465 L200,480 L440,630 L600,720 L700,770 C760,800 800,805 840,785 C880,760 895,700 885,650 L800,300 L775,200 L770,170 L755,120 L770,85 L795,72 L820,85 L840,130 L850,145 L900,220 L1000,430 L1100,640 L1250,900 L1360,1100 L1370,1125 L1375,1160 L1350,1210 L1340,1240 L1320,1250 L1290,1235 L1230,1240 L1170,1280 L1130,1340 L1080,1375 L1050,1365 L1050,1330 L1070,1280 L1060,1265 L1000,1240 L800,1140 L600,1020 L400,860 L200,660 L120,560 Z"/>
<path d="M1062,1268 L1368,1128 M860,165 L1000,450 L1350,1100 M95,495 L178,465 M770,170 L850,145"/>
<path d="M110,520 L500,830 L800,1040 L1030,1200 L1062,1262 M130,500 L480,760"/>
<path d="M760,210 L790,300 L870,640 C880,700 860,750 830,770 C800,785 760,780 700,750 M800,300 L815,280 M870,660 L935,650"/>
<ellipse cx="135" cy="440" rx="14" ry="9" transform="rotate(-30 135 440)"/><ellipse cx="795" cy="115" rx="14" ry="9" transform="rotate(-30 795 115)"/>
<ellipse cx="1330" cy="1205" rx="14" ry="9" transform="rotate(-30 1330 1205)"/><ellipse cx="1090" cy="1320" rx="14" ry="9" transform="rotate(-30 1090 1320)"/>
<ellipse cx="918" cy="408" rx="45" ry="38" transform="rotate(20 918 408)"/>
<ellipse cx="405" cy="680" rx="38" ry="30" transform="rotate(20 405 680)"/><ellipse cx="415" cy="690" rx="27" ry="19" transform="rotate(20 415 690)"/>
<circle cx="865" cy="268" r="4"/><circle cx="255" cy="572" r="4"/>
<!-- rib -->
<path d="M480,720 L500,705 L540,710 L760,830 C800,870 850,890 900,890 L960,870 C1000,850 1030,820 1030,790 L1010,730 L935,540 L925,510 L945,485 L985,490 L1010,520 L1280,1040 L1285,1080 L1260,1100 L1080,1170 L1040,1180 L1000,1170 L500,790 L470,750 Z"/>
<path d="M500,740 L530,730 L750,850 C800,890 850,910 905,910 L975,885 C1020,860 1050,820 1045,780 L950,540 L960,515 L985,520 L1265,1045 L1262,1075 L1075,1150 L1035,1160 L510,775 Z"/>
<path d="M800,960 L820,930 L900,925 L1000,880 L1050,820 L1090,815 L1250,1040 L1240,1080 L1060,1160 L1020,1160 L800,980 Z"/>
<path d="M495,765 L1005,1155 M515,760 L1020,1140" style="stroke-width:1.4"/>
<path d="M1230,1050 L1060,1140 M960,540 L1000,700 M975,540 L1030,740"/>
<path d="M770,860 L765,895 M905,885 L915,925 M965,865 L975,900"/>
<!-- washers & bolt -->
<ellipse cx="1016" cy="238" rx="25" ry="39" transform="rotate(25 1016 238)"/><ellipse cx="1014" cy="240" rx="9" ry="14" transform="rotate(25 1014 240)"/>
<ellipse cx="1150" cy="312" rx="22" ry="36" transform="rotate(25 1150 312)"/><ellipse cx="1148" cy="314" rx="10" ry="16" transform="rotate(25 1148 314)"/>
<path d="M1225,358 L1292,396" style="stroke-width:4.4;stroke-dasharray:1.2 0.7;stroke-linecap:butt"/>
<path d="M1298,390 L1318,385 L1338,400 L1335,425 L1312,435 L1295,420 Z M1318,385 L1312,435"/>
<path d="M620,0 L760,80 M850,145 L990,215 M1050,255 L1120,295 M1180,328 L1220,350" class="t"/>
<path d="M1055,195 L1205,115 M1200,280 L1355,195 M1350,385 L1500,300 M0,660 L105,598" class="t"/>
<!-- 15 clip -->
<path d="M570,1390 L600,1350 L630,1345 L645,1365 L620,1400 L590,1405 Z M585,1385 L610,1360 L635,1362 M630,1395 L720,1480" />
<path d="M450,1385 L530,1385 M980,1450 L1090,1450" class="t"/>
</g>
<g class="l">
<path d="M850,306.5 L843.5,306 C838,312 836.5,316 836.5,321 C833,350 833,390 837,417 L880,475 L885,475 L930,423 L955,390 C958,385 958,380 956,378 L947,373 Z"/>
<path d="M843,311 L945.7,380.8 C949,383 950,387 948,391 L926,421 L884,473"/>
<path d="M906.7,284 L906.7,335" class="t"/>
<path d="M1008,218 L1001,221 C998,224 997,227 996.5,231 C993,250 993,300 1000,326 L1036.5,386.5 L1041.5,386.5 L1083,333 L1107,307 C1114,300 1115,296 1113,291 Z"/>
<path d="M1000,222 L1106,295 C1109,298 1109,301 1106,305 L1077,333 L1040,384"/>
<path d="M1064.3,200 L1064.3,248.5" class="t"/>
</g>
<g class="t" style="stroke-width:0.9">
<path d="M261.7,46.7 L306.7,71.7"/>
<path d="M407,78.5 L632,205" style="stroke-dasharray:38 5 5 5"/>
<path d="M553,273 L324,590" style="stroke-dasharray:40 5 5 5"/>
<path d="M450,562 L532,700" style="stroke-dasharray:30 4 4 4"/>
<path d="M493,84.5 L448,58"/>
<path d="M444,55.5 L453,57.5 L450,62.5 Z" style="fill:#222"/>
<path d="M680,823 L708,795 M680,835 L728,854"/>
</g>

<text class="n" transform="translate(238,44) scale(0.91,1)">11</text>
<text class="n" transform="translate(530,93.5) scale(0.91,1)">7</text>
<text class="n" transform="translate(704,120) scale(0.91,1)">13</text>
<text class="n" transform="translate(676.5,132.5) scale(0.91,1)">12</text>
<text class="n" transform="translate(640,152) scale(0.91,1)">10</text>
<text class="n" transform="translate(724,210) scale(0.91,1)">13</text>
<text class="n" transform="translate(751.5,228) scale(0.91,1)">12</text>
<text class="n" transform="translate(786,246) scale(0.91,1)">10</text>
<text class="n" transform="translate(896.5,282) scale(0.91,1)">16</text>
<text class="n" transform="translate(1055,195.5) scale(0.91,1)">17</text>
<text class="n" transform="translate(443,336) scale(0.91,1)">14</text>
<text class="n" transform="translate(224,404) scale(0.91,1)">2</text>
<text class="n" transform="translate(545,473) scale(0.91,1)">15</text>
<text class="n" transform="translate(701.5,487) scale(0.91,1)">3</text>
<text class="n" transform="translate(578,528.5) scale(0.91,1)">3</text>
<text class="n" transform="translate(518.5,620) scale(0.91,1)">3</text>
<text class="n" transform="translate(413,620) scale(0.91,1)">15</text>
<text class="n" transform="translate(461.5,700) scale(0.91,1)">3</text>
<text class="n" transform="translate(206.5,715.5) scale(0.91,1)">4</text>
<text class="n" transform="translate(269,763.5) scale(0.91,1)">1</text>
<text class="n" transform="translate(395.5,884.5) scale(0.91,1)">6</text>
<text class="n" transform="translate(600.5,857) scale(0.91,1)">3</text>
<text class="n" transform="translate(887,584) scale(0.91,1)">3</text>
<text class="n" transform="translate(666,835.5) scale(0.91,1)">3</text>
<text class="n" transform="translate(1060,833) scale(0.91,1)">8</text>
<text class="n" transform="translate(874,1096.5) scale(0.91,1)">3</text>
<text class="n" transform="translate(1069,1133) scale(0.91,1)">3</text>
<text class="n" transform="translate(1226,1172.5) scale(0.91,1)">5</text>
<text class="n" transform="translate(395,961) scale(0.91,1)">3</text>
<text class="n" transform="translate(394,1082.5) scale(0.91,1)">3</text>
<text class="n" transform="translate(673.5,1112) scale(0.91,1)">22</text>
<text class="n" transform="translate(425,1267) scale(0.91,1)">9</text>
<text class="n" transform="translate(504,1351) scale(0.91,1)">21</text>
<text class="n" transform="translate(465.5,1377) scale(0.91,1)">20</text>
<text class="n" transform="translate(425,1396) scale(0.91,1)">23</text>
<text class="n" transform="translate(557,1379) scale(0.91,1)">3</text>
<text class="n" transform="translate(702,1482.5) scale(0.91,1)">3</text>
<text class="n" transform="translate(850,1464) scale(0.91,1)">5</text>
<clipPath id="cp"><rect x="201" y="1480" width="100" height="20"/></clipPath><text clip-path="url(#cp)" x="252.5" y="1499" text-anchor="end" style="font-family:'Liberation Sans',sans-serif;font-size:12px;fill:#111">31M0729</text>
</svg>
</body></html>
